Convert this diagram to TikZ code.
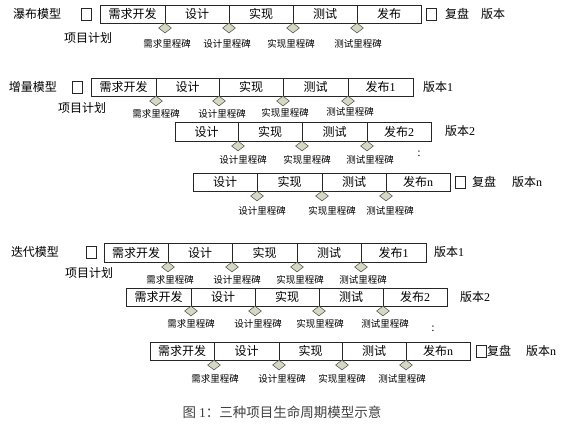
\documentclass[tikz,border=0pt]{standalone}
\usepackage{fontspec}
\setmainfont{Liberation Serif}
\newfontfamily\cjk{Noto Sans CJK SC}
\usetikzlibrary{shapes.geometric}
\definecolor{msfill}{RGB}{214,216,194}
\tikzset{
  cellbox/.style={draw=black!85, line width=0.8pt, inner sep=0pt, outer sep=0pt,
    font=\cjk\fontsize{12}{12}\selectfont},
  milestone/.style={diamond, draw=black!70, fill=msfill, line width=0.5pt,
    minimum width=13pt, minimum height=10pt, inner sep=0pt},
  mslabel/.style={font=\cjk\fontsize{9.5}{10}\selectfont, inner sep=0pt},
  bigtext/.style={font=\cjk\fontsize{12}{12}\selectfont, inner sep=0pt},
  checkbox/.style={draw=black!85, line width=0.8pt, minimum width=10pt,
    minimum height=12pt, inner sep=0pt},
  captiontext/.style={font=\cjk\fontsize{13.5}{14}\selectfont, text=black!75, inner sep=0pt}
}
% name, left, right, top, bottom, text
\newcommand\stg[6]{\node[cellbox, minimum width={(#3-#2)*1pt}, minimum height={(#5-#4)*1pt}] (#1) at ({(#2+#3)/2},{(#4+#5)/2}) {#6};}
% name, x, y, labelx, labely, text
\newcommand\mst[6]{\node[milestone] (#1) at (#2,#3) {}; \node[mslabel] (#1l) at (#4,#5) {#6};}
\begin{document}
\begin{tikzpicture}[x=1pt,y=-1pt]
\useasboundingbox (0,0) rectangle (563,424);

% ---------- Waterfall ----------
\node[bigtext] (wfname) at (37,14) {瀑布模型};
\node[checkbox] (wfplan) at (86.5,14) {};
\node[bigtext] (wfplanl) at (88,38) {项目计划};
\stg{wa}{100}{165}{5}{23}{需求开发}
\stg{wb}{165}{229}{5}{23}{设计}
\stg{wc}{229}{293}{5}{23}{实现}
\stg{wd}{293}{357}{5}{23}{测试}
\stg{we}{357}{421}{5}{23}{发布}
\mst{wm1}{165}{28}{167}{44}{需求里程碑}
\mst{wm2}{229}{28}{227}{44}{设计里程碑}
\mst{wm3}{293}{28}{291}{44}{实现里程碑}
\mst{wm4}{357}{28}{358}{44}{测试里程碑}
\node[checkbox] (wfrev) at (431.5,14) {};
\node[bigtext] (wfrevl) at (457,14) {复盘};
\node[bigtext] (wfver) at (493,14) {版本};

% ---------- Incremental ----------
\node[bigtext] (inname) at (33,87) {增量模型};
\node[checkbox] (inplan) at (77,87) {};
\node[bigtext] (inplanl) at (82,108) {项目计划};
\stg{ia}{91}{156}{78}{96}{需求开发}
\stg{ib}{156}{219}{78}{96}{设计}
\stg{ic}{219}{283}{78}{96}{实现}
\stg{id}{283}{348}{78}{96}{测试}
\stg{ie}{348}{413}{78}{96}{发布{\rmfamily 1}}
\mst{im1}{156}{101}{156}{114}{需求里程碑}
\mst{im2}{219}{101}{222}{114}{设计里程碑}
\mst{im3}{283}{101}{285}{113}{实现里程碑}
\mst{im4}{348}{101}{350}{112}{测试里程碑}
\node[bigtext] (inver1) at (438,87) {版本{\rmfamily 1}};

\stg{jb}{175}{238}{122}{141}{设计}
\stg{jc}{238}{302}{122}{141}{实现}
\stg{jd}{302}{367}{122}{141}{测试}
\stg{je}{367}{431}{122}{141}{发布{\rmfamily 2}}
\mst{jm2}{238}{146}{243}{160}{设计里程碑}
\mst{jm3}{302}{146}{307}{160}{实现里程碑}
\mst{jm4}{367}{146}{370}{160}{测试里程碑}
\node[bigtext] (inver2) at (460,131) {版本{\rmfamily 2}};
\node[bigtext, font=\rmfamily\fontsize{12}{12}\selectfont] (indots) at (419,154) {:};

\stg{kb}{193}{257}{173}{191}{设计}
\stg{kc}{257}{322}{173}{191}{实现}
\stg{kd}{322}{386}{173}{191}{测试}
\stg{ke}{386}{450}{173}{191}{发布{\rmfamily n}}
\mst{km2}{257}{196}{262}{211}{设计里程碑}
\mst{km3}{322}{196}{332}{211}{实现里程碑}
\mst{km4}{386}{196}{390}{211}{测试里程碑}
\node[checkbox] (inrev) at (460.5,182) {};
\node[bigtext] (inrevl) at (484,182) {复盘};
\node[bigtext] (invern) at (527,182) {版本{\rmfamily n}};

% ---------- Iterative ----------
\node[bigtext] (itname) at (35,252) {迭代模型};
\node[checkbox] (itplan) at (91.5,252) {};
\node[bigtext] (itplanl) at (89,273) {项目计划};
\stg{ta}{104}{168}{243}{262}{需求开发}
\stg{tb}{168}{232}{243}{262}{设计}
\stg{tc}{232}{297}{243}{262}{实现}
\stg{td}{297}{361}{243}{262}{测试}
\stg{te}{361}{426}{243}{262}{发布{\rmfamily 1}}
\mst{tm1}{168}{267}{170}{280}{需求里程碑}
\mst{tm2}{232}{267}{237}{280}{设计里程碑}
\mst{tm3}{297}{267}{300}{280}{实现里程碑}
\mst{tm4}{361}{267}{363}{280}{测试里程碑}
\node[bigtext] (itver1) at (449,252) {版本{\rmfamily 1}};

\stg{ua}{126}{191}{288}{306}{需求开发}
\stg{ub}{191}{255}{288}{306}{设计}
\stg{uc}{255}{319}{288}{306}{实现}
\stg{ud}{319}{383}{288}{306}{测试}
\stg{ue}{383}{447}{288}{306}{发布{\rmfamily 2}}
\mst{um1}{191}{311}{191}{324}{需求里程碑}
\mst{um2}{255}{311}{258}{324}{设计里程碑}
\mst{um3}{319}{311}{320}{324}{实现里程碑}
\mst{um4}{383}{311}{385}{324}{测试里程碑}
\node[bigtext] (itver2) at (475,297) {版本{\rmfamily 2}};
\node[bigtext, font=\rmfamily\fontsize{12}{12}\selectfont] (itdots) at (433,329) {:};

\stg{va}{150}{214}{342}{360}{需求开发}
\stg{vb}{214}{279}{342}{360}{设计}
\stg{vc}{279}{342}{342}{360}{实现}
\stg{vd}{342}{406}{342}{360}{测试}
\stg{ve}{406}{470}{342}{360}{发布{\rmfamily n}}
\mst{vm1}{214}{365}{215}{379}{需求里程碑}
\mst{vm2}{279}{365}{282}{379}{设计里程碑}
\mst{vm3}{342}{365}{342}{379}{实现里程碑}
\mst{vm4}{406}{365}{402}{379}{测试里程碑}
\node[checkbox] (itrev) at (481,351) {};
\node[bigtext] (itrevl) at (499,351) {复盘};
\node[bigtext] (itvern) at (541,351) {版本{\rmfamily n}};

% ---------- Caption ----------
\node[captiontext] (caption) at (282,412) {图 {\rmfamily 1}：三种项目生命周期模型示意};
\end{tikzpicture}
\end{document}
